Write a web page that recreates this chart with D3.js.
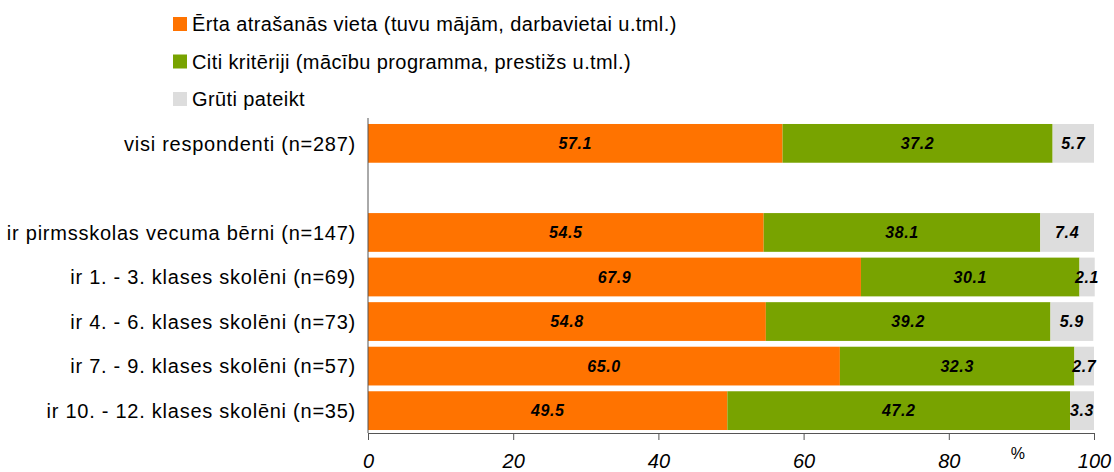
<!DOCTYPE html>
<html>
<head>
<meta charset="utf-8">
<script src="https://cdn.jsdelivr.net/npm/d3@7"></script>
<style>
  body { margin: 0; background: #fff; }
  svg { font-family: "Liberation Sans", Arial, sans-serif; }
  .cat-label { font-size: 20px; letter-spacing: 0.75px; fill: #000; }
  .val-label { font-size: 16px; letter-spacing: 0.6px; font-weight: bold; font-style: italic; fill: #000; }
  .legend-text { font-size: 20px; letter-spacing: 0.4px; fill: #000; }
  .axis text { font-size: 20px; font-style: italic; fill: #000; font-family: "Liberation Sans", Arial, sans-serif; }
  .axis path, .axis line { stroke: #555; }
</style>
</head>
<body>
<div id="chart"></div>
<script>
// --- Data ---
const categories = [
    'visi respondenti (n=287)',
    '',
    'ir pirmsskolas vecuma bērni (n=147)',
    'ir 1. - 3. klases skolēni (n=69)',
    'ir 4. - 6. klases skolēni (n=73)',
    'ir 7. - 9. klases skolēni (n=57)',
    'ir 10. - 12. klases skolēni (n=35)'
];
const seriesNames = [
    'Ērta atrašanās vieta (tuvu mājām, darbavietai u.tml.)',
    'Citi kritēriji (mācību programma, prestižs u.tml.)',
    'Grūti pateikt'
];
const seriesColors = ['#ff7300', '#78a300', '#dddddd'];
const convenient = [57.1, null, 54.5, 67.9, 54.8, 65.0, 49.5];
const otherCrit  = [37.2, null, 38.1, 30.1, 39.2, 32.3, 47.2];
const hardToSay  = [5.7,  null, 7.4,  2.1,  5.9,  2.7,  3.3];
const xTicks = [0, 20, 40, 60, 80, 100];

const W = 1114, H = 472;
const margin = { top: 121, right: 20, bottom: 39, left: 368 };
const width = 726;
const height = H - margin.top - margin.bottom;

const svg = d3.select('#chart').append('svg')
    .attr('width', W)
    .attr('height', H);

const g = svg.append('g')
    .attr('transform', `translate(${margin.left},${margin.top})`);

// --- Scales ---
const keys = categories.map((d, i) => i);
const y = d3.scaleBand()
    .domain(keys)
    .range([0, height])
    .paddingInner(0.13)
    .paddingOuter(0.067);

const x = d3.scaleLinear()
    .domain([0, 100])
    .range([0, width]);

// --- Stacked rows ---
const rows = keys
    .filter(i => convenient[i] !== null)
    .map(i => ({ i, values: [convenient[i], otherCrit[i], hardToSay[i]] }));

rows.forEach(r => {
    let acc = 0;
    r.values.forEach((v, s) => {
        const x0 = acc, x1 = acc + v;
        acc = x1;
        g.append('rect')
            .attr('x', x(x0))
            .attr('y', y(r.i))
            .attr('width', x(x1) - x(x0))
            .attr('height', y.bandwidth())
            .attr('fill', seriesColors[s]);
        g.append('text')
            .attr('class', 'val-label')
            .attr('x', (x(x0) + x(x1)) / 2)
            .attr('y', y(r.i) + y.bandwidth() / 2)
            .attr('dy', '0.36em')
            .attr('text-anchor', 'middle')
            .text(v.toFixed(1));
    });
});

// --- Category labels ---
g.selectAll('.cat-label')
    .data(keys.filter(i => categories[i] !== ''))
    .enter().append('text')
    .attr('class', 'cat-label')
    .attr('x', -12)
    .attr('y', i => y(i) + y.bandwidth() / 2)
    .attr('dy', '0.36em')
    .attr('text-anchor', 'end')
    .text(i => categories[i]);

// --- Axes ---
g.append('line')
    .attr('x1', 0).attr('x2', 0)
    .attr('y1', -3).attr('y2', height)
    .attr('stroke', '#555');

g.append('g')
    .attr('class', 'axis')
    .attr('transform', `translate(0,${height})`)
    .call(d3.axisBottom(x).tickValues(xTicks).tickSize(7).tickSizeOuter(0).tickPadding(14));

g.append('text')
    .attr('x', x(89.5))
    .attr('y', height + 26)
    .attr('text-anchor', 'middle')
    .attr('font-size', 16)
    .text('%');

// --- Legend ---
const legend = svg.append('g')
    .attr('transform', 'translate(173,31)');

seriesNames.forEach((name, s) => {
    const row = legend.append('g')
        .attr('transform', `translate(0,${s * 37.5})`);
    row.append('rect')
        .attr('x', 0).attr('y', -14)
        .attr('width', 14).attr('height', 14)
        .attr('fill', seriesColors[s]);
    row.append('text')
        .attr('class', 'legend-text')
        .attr('x', 19)
        .attr('y', 0)
        .text(name);
});
</script>
</body>
</html>
